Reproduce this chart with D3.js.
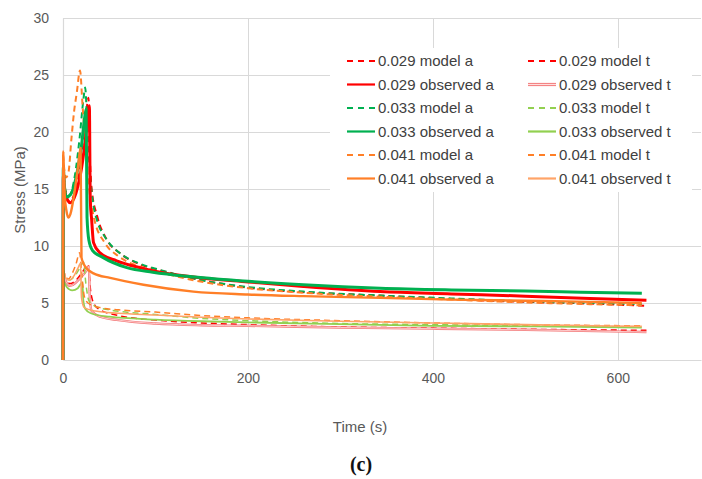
<!DOCTYPE html>
<html>
<head>
<meta charset="utf-8">
<script src="https://cdn.jsdelivr.net/npm/d3@7"></script>
<style>
  html, body { margin: 0; padding: 0; background: #fff; }
  svg { display: block; font-family: "Liberation Sans", Arial, sans-serif; }
</style>
</head>
<body>
<svg id="chart" width="702" height="479"></svg>
<script>
// ---- axis ticks ----
const xTicks = [0, 200, 400, 600];
const yTicks = [0, 5, 10, 15, 20, 25, 30];

// ---- 0.029 ----
const t029ModelA = [0, 3, 7, 12, 17, 22, 26, 27.5, 29, 31, 37, 47, 61, 83, 105, 141, 200, 260, 343, 420, 500, 570, 631];
const s029ModelA = [16.0, 14.5, 13.9, 14.5, 16.2, 19.5, 22.3, 23.0, 18.0, 15.0, 12.6, 10.6, 9.4, 8.4, 7.85, 7.15, 6.35, 5.95, 5.65, 5.35, 5.1, 4.95, 4.75];
const t029ObsA = [0, 0.3, 2, 5, 8, 12, 16, 20, 24, 27, 28.5, 29.5, 31, 33, 40, 58, 83, 105, 150, 200, 260, 343, 420, 500, 570, 631];
const s029ObsA = [0, 16.2, 14.8, 14.0, 13.8, 14.2, 15.2, 16.8, 19.2, 21.5, 22.3, 14.0, 12.3, 10.3, 9.4, 8.7, 8.1, 7.7, 7.2, 6.85, 6.45, 6.0, 5.8, 5.6, 5.4, 5.25];
const t029ModelT = [0, 3, 8, 14, 20, 25, 27, 30, 33, 40, 60, 100, 150, 200, 300, 400, 500, 631];
const s029ModelT = [7.5, 7.0, 6.7, 7.0, 7.6, 8.2, 8.4, 6.0, 5.0, 4.4, 3.9, 3.5, 3.25, 3.1, 2.9, 2.8, 2.7, 2.6];
const t029ObsT = [0, 0.3, 3, 8, 14, 20, 25, 28, 29, 31, 40, 60, 100, 150, 200, 300, 400, 500, 631];
const s029ObsT = [0, 7.8, 6.9, 6.5, 6.8, 7.3, 7.8, 8.2, 5.5, 4.3, 3.8, 3.5, 3.2, 3.05, 3.0, 2.85, 2.75, 2.65, 2.45];

// ---- 0.033 ----
const t033ModelA = [0, 3, 6, 10, 14, 18, 22, 24, 26, 29, 33, 37, 47, 61, 83, 105, 141, 200, 260, 343, 420, 500, 570, 626];
const s033ModelA = [17.0, 14.8, 14.4, 15.0, 16.8, 19.5, 22.8, 23.9, 21.0, 16.5, 13.5, 12.2, 10.6, 9.4, 8.45, 7.9, 7.15, 6.4, 6.0, 5.65, 5.4, 5.15, 5.0, 4.9];
const t033ObsA = [0, 0.3, 1.5, 4, 8, 12, 16, 20, 23, 25, 26, 28, 32, 43, 69, 97, 140, 200, 260, 343, 420, 500, 560, 626];
const s033ObsA = [0, 17.0, 15.0, 14.3, 14.5, 15.3, 16.8, 18.8, 21.0, 22.0, 12.5, 10.5, 9.6, 9.0, 8.1, 7.7, 7.3, 6.9, 6.6, 6.3, 6.15, 6.05, 5.95, 5.85];
const t033ModelT = [0, 3, 7, 12, 17, 21, 22, 25, 28, 35, 50, 100, 150, 200, 300, 400, 500, 626];
const s033ModelT = [7.7, 7.2, 7.0, 7.3, 7.9, 8.5, 8.6, 6.5, 5.2, 4.7, 4.4, 4.0, 3.65, 3.45, 3.2, 3.1, 3.0, 2.9];
const t033ObsT = [0, 0.3, 4, 10, 16, 21, 22, 24, 30, 50, 100, 150, 200, 300, 400, 500, 626];
const s033ObsT = [0, 6.9, 6.4, 6.1, 6.3, 6.8, 5.2, 4.5, 4.1, 3.8, 3.55, 3.4, 3.3, 3.15, 3.0, 2.95, 2.85];

// ---- 0.041 ----
const t041ModelA = [0, 3, 6, 9, 12, 15, 18.4, 21, 25, 29, 34, 45, 60, 83, 105, 141, 200, 260, 343, 420, 500, 570, 626];
const s041ModelA = [18.0, 16.0, 16.5, 19.3, 21.8, 23.5, 25.4, 22.5, 18.0, 14.5, 12.3, 10.3, 9.1, 8.2, 7.7, 7.0, 6.3, 5.9, 5.55, 5.3, 5.05, 4.9, 4.8];
const t041ObsA = [0, 0.3, 1, 2, 3.5, 5.8, 8, 12, 16, 19, 20, 22, 24, 33, 51, 87, 141, 200, 260, 343, 420, 500, 570, 626];
const s041ObsA = [0, 18.3, 16.5, 14.3, 13.2, 12.5, 12.8, 14.5, 16.8, 18.6, 9.0, 8.5, 8.2, 7.6, 7.2, 6.6, 6.0, 5.75, 5.6, 5.45, 5.3, 5.2, 5.1, 5.0];
const t041ModelT = [0, 3, 6, 10, 14, 18, 20, 23, 27, 40, 60, 100, 150, 200, 300, 400, 500, 626];
const s041ModelT = [8.0, 7.3, 7.1, 7.6, 8.4, 9.4, 7.8, 5.6, 5.0, 4.6, 4.4, 4.2, 3.9, 3.7, 3.45, 3.25, 3.1, 3.0];
const t041ObsT = [0, 0.3, 3, 7, 12, 17, 19, 20, 23, 35, 60, 100, 150, 200, 300, 400, 500, 626];
const s041ObsT = [0, 7.8, 7.2, 7.0, 7.4, 8.2, 8.5, 5.5, 4.6, 4.3, 4.1, 3.95, 3.75, 3.6, 3.4, 3.25, 3.1, 2.95];

// ---- series styling ----
const RED = "#ff0000", GREEN = "#00b050", LGREEN = "#92d050", ORANGE = "#ff7f27", LORANGE = "#ffa468", PINK = "#f37a7a";
const DASH = "6,4";

const series = [
  { label: "0.029 model t",    t: t029ModelT, s: s029ModelT, color: RED,     width: 1.5, dash: DASH },
  { label: "0.029 observed t", t: t029ObsT,   s: s029ObsT,   color: PINK,    width: 2.4, inner: "#ffdede" },
  { label: "0.033 model t",    t: t033ModelT, s: s033ModelT, color: LGREEN,  width: 1.5, dash: DASH },
  { label: "0.033 observed t", t: t033ObsT,   s: s033ObsT,   color: LGREEN,  width: 1.8 },
  { label: "0.041 model t",    t: t041ModelT, s: s041ModelT, color: ORANGE,  width: 1.5, dash: DASH },
  { label: "0.041 observed t", t: t041ObsT,   s: s041ObsT,   color: LORANGE, width: 1.6 },
  { label: "0.029 model a",    t: t029ModelA, s: s029ModelA, color: RED,     width: 2,   dash: DASH },
  { label: "0.033 model a",    t: t033ModelA, s: s033ModelA, color: GREEN,   width: 2,   dash: DASH },
  { label: "0.041 model a",    t: t041ModelA, s: s041ModelA, color: ORANGE,  width: 2,   dash: DASH },
  { label: "0.029 observed a", t: t029ObsA,   s: s029ObsA,   color: RED,     width: 3 },
  { label: "0.033 observed a", t: t033ObsA,   s: s033ObsA,   color: GREEN,   width: 3 },
  { label: "0.041 observed a", t: t041ObsA,   s: s041ObsA,   color: ORANGE,  width: 2.4 }
];

// legend order: two columns, filled row by row
const legendOrder = [
  ["0.029 model a", "0.029 model t"],
  ["0.029 observed a", "0.029 observed t"],
  ["0.033 model a", "0.033 model t"],
  ["0.033 observed a", "0.033 observed t"],
  ["0.041 model a", "0.041 model t"],
  ["0.041 observed a", "0.041 observed t"]
];

const svg = d3.select("#chart");
const plot = { left: 63, right: 701, top: 18, bottom: 360 };

const x = d3.scaleLinear().domain([0, 690]).range([plot.left, plot.right]);
const y = d3.scaleLinear().domain([0, 30]).range([plot.bottom, plot.top]);

const GRID = "#d9d9d9", TEXT = "#595959";

// gridlines
svg.append("g").selectAll("line").data(yTicks.filter(d => d > 0)).join("line")
  .attr("x1", plot.left).attr("x2", plot.right)
  .attr("y1", d => y(d) + 0.5).attr("y2", d => y(d) + 0.5)
  .attr("stroke", GRID).attr("stroke-width", 1);
svg.append("g").selectAll("line").data(xTicks.filter(d => d > 0)).join("line")
  .attr("x1", d => Math.round(x(d)) + 0.5).attr("x2", d => Math.round(x(d)) + 0.5)
  .attr("y1", plot.top).attr("y2", plot.bottom)
  .attr("stroke", GRID).attr("stroke-width", 1);

// axes
const yAxis = svg.append("g").attr("transform", `translate(${plot.left},0)`)
  .call(d3.axisLeft(y).tickValues(yTicks).tickSize(0).tickPadding(14));
const xAxis = svg.append("g").attr("transform", `translate(0,${plot.bottom})`)
  .call(d3.axisBottom(x).tickValues(xTicks).tickSize(0).tickPadding(13));
[yAxis, xAxis].forEach(g => {
  g.select(".domain").attr("stroke", GRID).attr("stroke-width", 1.2);
  g.selectAll("text").attr("fill", TEXT).attr("font-size", 14)
    .attr("font-family", "'Liberation Sans', Arial, sans-serif");
});

// axis titles
svg.append("text").attr("transform", "translate(25,190) rotate(-90)")
  .attr("text-anchor", "middle").attr("fill", TEXT).attr("font-size", 15)
  .text("Stress (MPa)");
svg.append("text").attr("x", 360).attr("y", 432)
  .attr("text-anchor", "middle").attr("fill", TEXT).attr("font-size", 15)
  .text("Time (s)");
svg.append("text").attr("x", 361).attr("y", 471)
  .attr("text-anchor", "middle").attr("fill", "#111").attr("font-size", 20)
  .attr("font-weight", "bold").attr("font-family", "'Liberation Serif', 'DejaVu Serif', serif")
  .text("(c)");

// data lines
const line = d3.line().x(d => x(d[0])).y(d => y(d[1])).curve(d3.curveMonotoneX);
const lines = svg.append("g");
series.forEach(sr => {
  const pts = sr.t.map((t, i) => [t, sr.s[i]]);
  lines.append("path").datum(pts)
    .attr("d", line).attr("fill", "none")
    .attr("stroke", sr.color).attr("stroke-width", sr.width)
    .attr("stroke-dasharray", sr.dash || null)
    .attr("stroke-linejoin", "round");
  if (sr.inner) {
    lines.append("path").datum(pts)
      .attr("d", line).attr("fill", "none")
      .attr("stroke", sr.inner).attr("stroke-width", 0.8);
  }
});

// legend
const byLabel = new Map(series.map(s => [s.label, s]));
const legend = svg.append("g");
legend.append("rect").attr("x", 330).attr("y", 48).attr("width", 362).attr("height", 144).attr("fill", "#fff");
const colX = [347, 528];
legendOrder.forEach((row, i) => {
  const yy = 61 + i * 23.5;
  row.forEach((label, j) => {
    const sr = byLabel.get(label);
    const x0 = colX[j];
    legend.append("line").attr("x1", x0).attr("x2", x0 + 28).attr("y1", yy).attr("y2", yy)
      .attr("stroke", sr.color).attr("stroke-width", sr.dash ? 2 : (sr.inner ? 3.2 : 2.2))
      .attr("stroke-dasharray", sr.dash ? "6,5" : null);
    if (sr.inner) {
      legend.append("line").attr("x1", x0).attr("x2", x0 + 28).attr("y1", yy).attr("y2", yy)
        .attr("stroke", sr.inner).attr("stroke-width", 1.2);
    }
    legend.append("text").attr("x", x0 + 31).attr("y", yy).attr("dy", "0.35em")
      .attr("fill", "#404040").attr("font-size", 15).text(label);
  });
});
</script>
</body>
</html>
